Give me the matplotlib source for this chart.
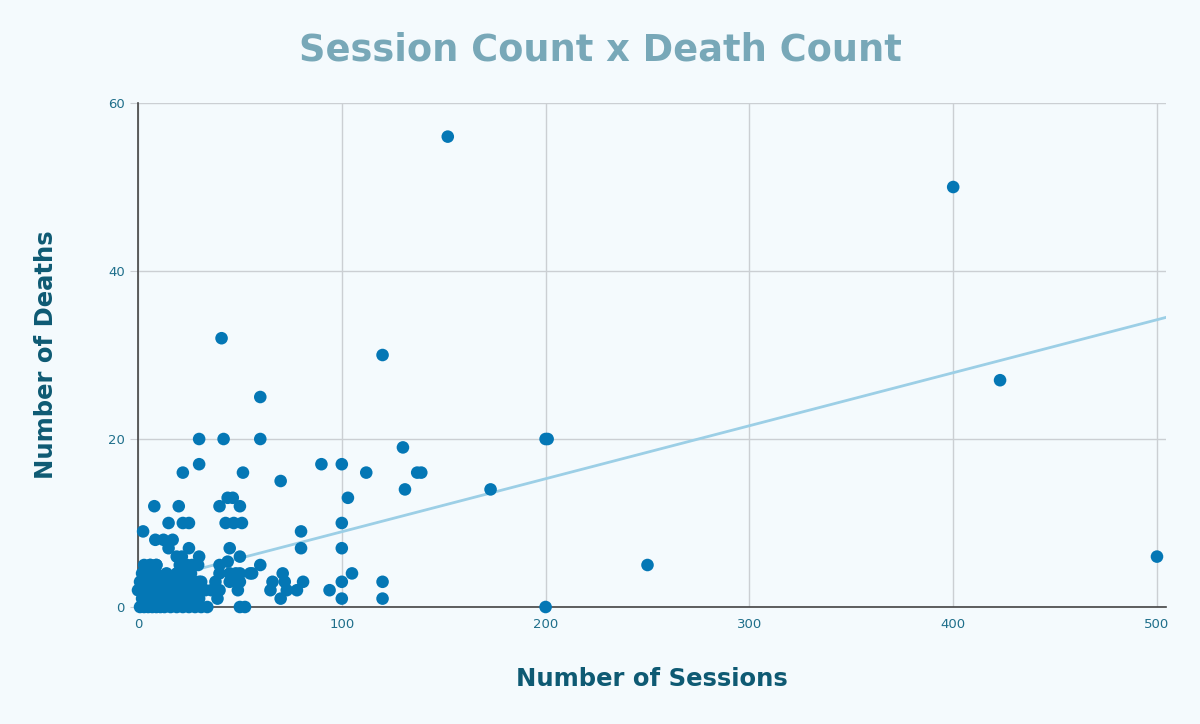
import matplotlib.pyplot as plt
import numpy as np

# sessions / deaths (dense corner is approximate)
sessions = [
    152, 400, 423, 500, 250, 200, 200, 201, 173, 139, 137, 131, 130, 120, 120, 120,
    112, 105, 103, 100, 100, 100, 100, 100, 90, 94, 80, 80, 81, 70, 70,
    60, 56, 71, 66, 72, 65, 73, 78, 41, 60, 30, 42, 60, 30, 22, 51.5,
    44, 46.5, 40, 50, 8, 20, 43, 47, 51, 15, 22, 25, 2.5, 8.5, 12.5, 17,
    15, 25, 45, 30, 19, 21.5, 50, 6, 9, 20.5, 24, 26.5, 40, 44,
    40, 45, 50, 55, 38, 45, 50, 40, 49, 39, 50, 52.5, 48,
    1, 3, 5, 7, 9, 11, 13, 16, 19, 22, 25, 28, 31, 34,
    2, 4, 6, 8, 10, 12, 15, 18, 20, 24, 27, 30,
    0, 3, 5, 9, 12, 14, 17, 21, 23, 26, 29, 33, 36,
    1, 4, 7, 10, 13, 16, 20, 24, 28, 31,
    2, 6, 9, 14, 19, 22, 26, 3, 6, 9, 30, 29.5, 3, 12,
]
deaths = [
    56, 50, 27, 6, 5, 0, 20, 20, 14, 16, 16, 14, 19, 30, 3, 1,
    16, 4, 13, 17, 10, 7, 3, 1, 17, 2, 9, 7, 3, 15, 1,
    5, 4, 4, 3, 3, 2, 2, 2, 32, 25, 20, 20, 20, 17, 16, 16,
    13, 13, 12, 12, 12, 12, 10, 10, 10, 10, 10, 10, 9, 8, 8, 8,
    7, 7, 7, 6, 6, 6, 6, 5, 5, 5, 5, 5, 5, 5.4,
    4, 4, 4, 4, 3, 3, 3, 2, 2, 1, 0, 0, 4,
    0, 0, 0, 0, 0, 0, 0, 0, 0, 0, 0, 0, 0, 0,
    1, 1, 1, 1, 1, 1, 1, 1, 1, 1, 1, 1,
    2, 2, 2, 2, 2, 2, 2, 2, 2, 2, 2, 2, 2,
    3, 3, 3, 3, 3, 3, 3, 3, 3, 3,
    4, 4, 4, 4, 4, 4, 4, 5, 5, 5, 3, 5, 3.5, 3,
]

# trend line as it appears in the reference
trend_intercept = 2.65
trend_slope = 0.0631

x_ticks = [0, 100, 200, 300, 400, 500]
y_ticks = [0, 20, 40, 60]

bg = '#f4fafd'
fig = plt.figure(figsize=(12, 7.24), dpi=100, facecolor=bg)
ax = fig.add_axes([0.115, 0.1616, 0.8568, 0.6961], facecolor=bg)

x_max = 504.5
ax.set_xlim(0, x_max)
ax.set_ylim(0, 60)

tx = np.array([0, x_max])
ax.plot(tx, trend_intercept + trend_slope * tx, color='#9ccfe6', lw=2, zorder=2)
ax.scatter(sessions, deaths, s=82, color='#0477b5', edgecolors='none', zorder=3, clip_on=False)

ax.set_xticks(x_ticks)
ax.set_yticks(y_ticks)
ax.grid(True, color='#cbcfd3', lw=1)
ax.set_axisbelow(True)
for s in ['top', 'right']:
    ax.spines[s].set_visible(False)
for s in ['left', 'bottom']:
    ax.spines[s].set_color('#444444')
    ax.spines[s].set_linewidth(1.2)
ax.tick_params(axis='both', colors='#cbcfd3', labelcolor='#1f6f8b', labelsize=9.5, length=6)
ax.tick_params(axis='x', length=0, pad=8)

ax.set_xlabel('Number of Sessions', fontsize=17.5, fontweight='bold', color='#0e5a73', labelpad=26)
ax.set_ylabel('Number of Deaths', fontsize=17.5, fontweight='bold', color='#0e5a73', labelpad=36)
fig.suptitle('Session Count x Death Count', x=0.5, y=0.957, fontsize=26.5, fontweight='bold', color='#78a8b8')

fig.savefig('out.png', dpi=100, facecolor=bg)
